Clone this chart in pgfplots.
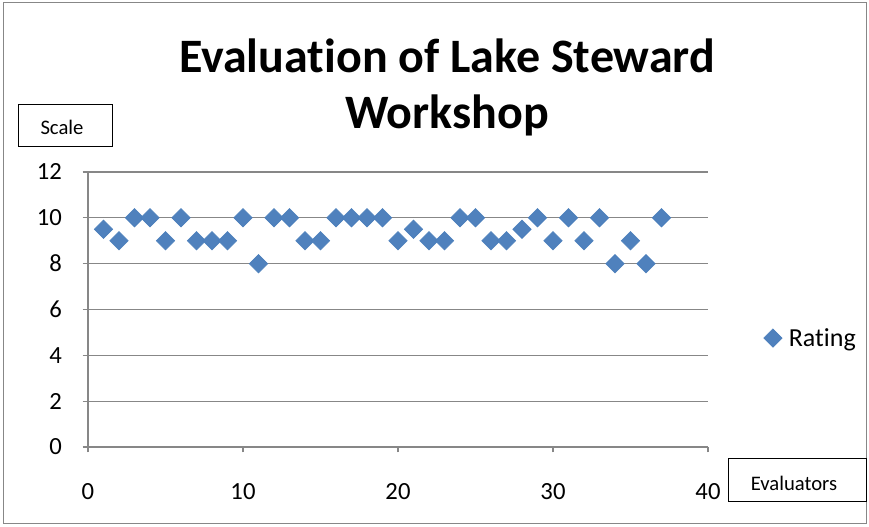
\documentclass[border=0pt]{standalone}
\usepackage{pgfplots}
\pgfplotsset{compat=1.18}
\usepackage{fontspec}
\setmainfont[RawFeature={-liga;-clig;-dlig;-calt}]{Carlito}
\definecolor{mk}{HTML}{4F81BD}
\definecolor{mkedge}{HTML}{4A7EBB}
\definecolor{gridc}{HTML}{878787}
\begin{document}
\begin{tikzpicture}[x=0.75pt,y=0.75pt]
\useasboundingbox (0,0) rectangle (869,527);
\draw[gridc, line width=0.75pt] (3.5,3) rectangle (866,524);
\begin{axis}[
  at={(66pt,60pt)}, anchor=south west,
  scale only axis, width=465pt, height=206.25pt,
  xmin=0, xmax=40, ymin=0, ymax=12,
  xtick={0,10,20,30,40}, ytick={0,2,4,6,8,10,12},
  axis lines*=left,
  axis line style={gridc, line width=0.9pt},
  ymajorgrids, grid style={gridc, line width=0.9pt},
  tick style={gridc, line width=0.9pt},
  tick align=outside, major tick length=4pt,
  /pgf/number format/assume math mode=true,
  ticklabel style={font=\fontsize{18.5}{20}\selectfont},
  xticklabel style={yshift=-20pt},
  yticklabel style={xshift=-12pt},
  legend style={at={(1.083,0.396)}, anchor=west, draw=none, fill=none,
    font=\fontsize{19.5}{21}\selectfont,
    nodes={inner xsep=5pt}},
  legend cell align=left,
]
\addplot[only marks, mark=square*, mark size=4.9pt,
  mark options={fill=mk, draw=mkedge, line width=0.4pt, rotate=45}]
coordinates {
(1,9.5)(2,9)(3,10)(4,10)(5,9)(6,10)(7,9)(8,9)(9,9)(10,10)
(11,8)(12,10)(13,10)(14,9)(15,9)(16,10)(17,10)(18,10)(19,10)(20,9)
(21,9.5)(22,9)(23,9)(24,10)(25,10)(26,9)(27,9)(28,9.5)(29,10)(30,9)
(31,10)(32,9)(33,10)(34,8)(35,9)(36,8)(37,10)
};
\addlegendentry{Rating}
\end{axis}
\node[font=\bfseries\fontsize{36}{42}\selectfont, align=center] at (447,440) {Evaluation of Lake Steward\\Workshop};
\draw[black, line width=0.75pt] (18,380) rectangle (112,422);
\node[font=\fontsize{15.5}{17}\selectfont] at (62,400) {Scale};
\draw[black, line width=0.75pt] (728,25) rectangle (866,68);
\node[font=\fontsize{15.5}{17}\selectfont] at (794,44) {Evaluators};
\end{tikzpicture}
\end{document}
